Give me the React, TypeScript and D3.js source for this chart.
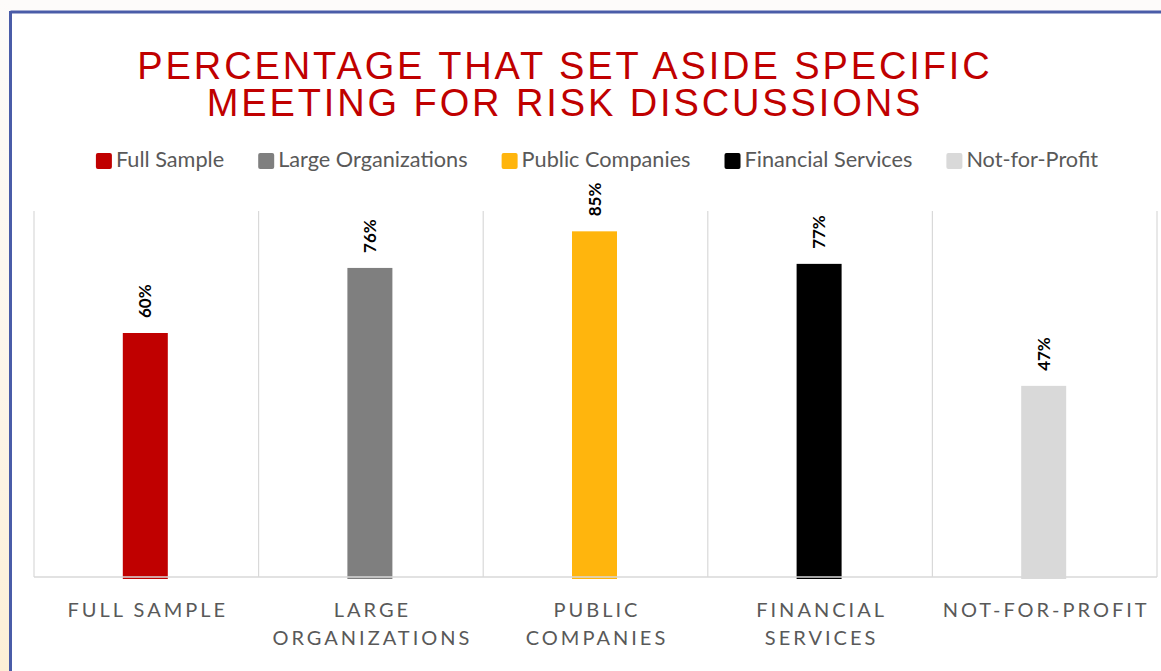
import React, { useEffect, useRef } from "react";
import * as d3 from "d3";

const categories = ["Full Sample", "Large Organizations", "Public Companies", "Financial Services", "Not-for-Profit"];
const axisLabels = [["FULL SAMPLE"], ["LARGE", "ORGANIZATIONS"], ["PUBLIC", "COMPANIES"], ["FINANCIAL", "SERVICES"], ["NOT-FOR-PROFIT"]];
const values = [60, 76, 85, 77, 47];
const colors = ["#c00000", "#7f7f7f", "#ffb50d", "#000000", "#d9d9d9"];
const titleLines = ["PERCENTAGE THAT SET ASIDE SPECIFIC", "MEETING FOR RISK DISCUSSIONS"];

const W = 1161;
const H = 671;
const plot = { left: 34, right: 1157, top: 211, bottom: 577 };

export default function App() {
  const ref = useRef<SVGSVGElement | null>(null);

  useEffect(() => {
    const svg = d3.select(ref.current);
    svg.selectAll("*").remove();

    const defs = svg.append("defs");
    const grad = defs.append("linearGradient").attr("id", "leftbg").attr("x1", 0).attr("y1", 0).attr("x2", 0).attr("y2", 1);
    grad.append("stop").attr("offset", "0%").attr("stop-color", "#fdfbfa");
    grad.append("stop").attr("offset", "50%").attr("stop-color", "#fdf6ec");
    grad.append("stop").attr("offset", "100%").attr("stop-color", "#fdefd6");

    svg.append("rect").attr("width", W).attr("height", H).attr("fill", "#fdfbfa");
    svg.append("rect").attr("x", 0).attr("y", 0).attr("width", 11).attr("height", H).attr("fill", "url(#leftbg)");
    svg.append("rect").attr("x", 11).attr("y", 13).attr("width", W - 11).attr("height", H - 13).attr("fill", "#ffffff");
    // frame
    svg.append("line").attr("x1", 10.5).attr("x2", W).attr("y1", 12).attr("y2", 12).attr("stroke", "#4a5ca8").attr("stroke-width", 3);
    svg.append("line").attr("x1", 10.5).attr("x2", 10.5).attr("y1", 11).attr("y2", H).attr("stroke", "#4a5ca8").attr("stroke-width", 3);

    // title
    titleLines.forEach((t, i) => {
      svg.append("text").attr("text-anchor", "middle")
        .attr("font-family", "'Liberation Sans', Arial, sans-serif").attr("font-size", 38)
        .attr("letter-spacing", 2.9).attr("fill", "#c00000")
        .attr("x", 565).attr("y", 79 + i * 36.5).text(t);
    });

    const x = d3.scaleBand<string>().domain(categories).range([plot.left, plot.right]).paddingInner(0).paddingOuter(0);
    const y = d3.scaleLinear().domain([0, 90]).range([plot.bottom, plot.top]);
    const barW = 45;

    // gridlines
    const bounds = categories.map((c) => x(c) as number).concat([plot.right]);
    svg.append("g").selectAll("line").data(bounds).join("line")
      .attr("x1", (d) => d).attr("x2", (d) => d)
      .attr("y1", plot.top).attr("y2", plot.bottom)
      .attr("stroke", "#d9d9d9").attr("stroke-width", 1.2);

    // bars
    svg.append("g").selectAll("rect").data(values).join("rect")
      .attr("x", (_, i) => (x(categories[i]) as number) + x.bandwidth() / 2 - barW / 2 - 1)
      .attr("width", barW)
      .attr("y", (d) => y(d))
      .attr("height", (d) => plot.bottom + 2 - y(d))
      .attr("fill", (_, i) => colors[i]);

    // baseline
    svg.append("line").attr("x1", plot.left).attr("x2", plot.right).attr("y1", plot.bottom).attr("y2", plot.bottom)
      .attr("stroke", "#d9d9d9").attr("stroke-width", 1.5);

    // value labels
    svg.append("g").selectAll("text").data(values).join("text")
      .attr("transform", (d, i) => {
        const cx = (x(categories[i]) as number) + x.bandwidth() / 2;
        return `translate(${cx + 5},${y(d) - 15}) rotate(-90)`;
      })
      .attr("font-family", "Lato, sans-serif").attr("font-weight", 700).attr("font-size", 17)
      .attr("fill", "#000").text((d) => `${d}%`);

    // axis labels
    const ax = svg.append("g");
    axisLabels.forEach((lines, i) => {
      const cx = (x(categories[i]) as number) + x.bandwidth() / 2;
      const t = ax.append("text").attr("text-anchor", "middle")
        .attr("font-family", "Lato, sans-serif").attr("font-size", 20)
        .attr("letter-spacing", 3.0).attr("fill", "#595959");
      lines.forEach((ln, j) => {
        t.append("tspan").attr("x", cx + 1.5).attr("y", 617 + j * 28).text(ln);
      });
    });

    // legend
    const lg = svg.append("g");
    const items = categories.map((c, i) => {
      const g = lg.append("g");
      g.append("rect").attr("width", 16).attr("height", 16).attr("rx", 2).attr("y", -14).attr("fill", colors[i]);
      const t = g.append("text").attr("x", 20).attr("y", 0)
        .attr("font-family", "Lato, sans-serif").attr("font-size", 21.7).attr("fill", "#595959").text(c);
      const w = 20 + (t.node() as SVGTextElement).getComputedTextLength();
      return { g, w };
    });
    const gap = 34;
    const total = d3.sum(items, (d) => d.w) + gap * (items.length - 1);
    let cur = 597 - total / 2;
    items.forEach((it) => {
      it.g.attr("transform", `translate(${cur},167)`);
      cur += it.w + gap;
    });
  }, []);

  return (
    <svg ref={ref} width={W} height={H} style={{ position: "absolute", left: 0, top: 0, display: "block" }} />
  );
}
